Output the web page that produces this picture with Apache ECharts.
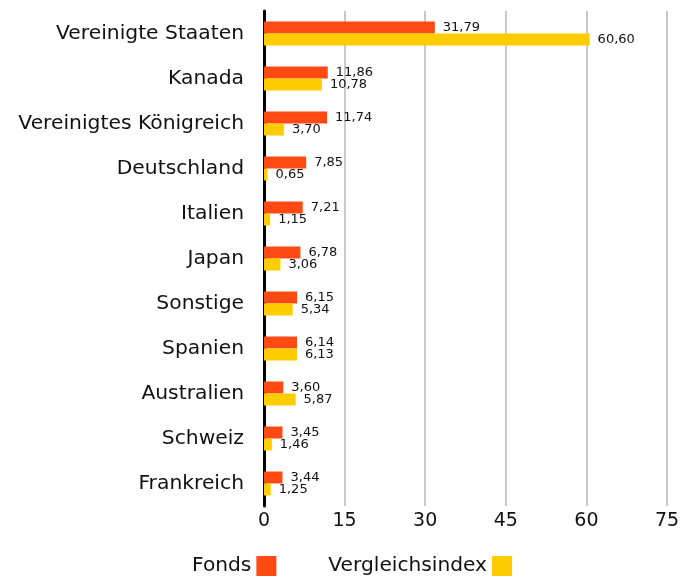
<!DOCTYPE html>
<html><head><meta charset="utf-8">
<script src="https://cdn.jsdelivr.net/npm/echarts@6/dist/echarts.min.js"></script>
<style>html,body{margin:0;padding:0;background:#fff}#c{width:692px;height:583px}</style>
</head><body><div id="c"></div>
<script>
const categories = ["Vereinigte Staaten","Kanada","Vereinigtes Königreich","Deutschland","Italien","Japan","Sonstige","Spanien","Australien","Schweiz","Frankreich"];
const fonds = [31.79,11.86,11.74,7.85,7.21,6.78,6.15,6.14,3.60,3.45,3.44];
const index = [60.60,10.78,3.70,0.65,1.15,3.06,5.34,6.13,5.87,1.46,1.25];
const xTicks = [0,15,30,45,60,75];

const FONT = 'DejaVu Sans';
const fmt = p => p.value.toFixed(2).replace('.', ',');
const chart = echarts.init(document.getElementById('c'));
chart.setOption({
  animation: false,
  textStyle: {fontFamily: FONT},
  grid: {left: 264, right: 25, top: 11, bottom: 77},
  legend: {
    bottom: 2, left: 187, itemWidth: 20, itemHeight: 20, itemGap: 52, align: 'right',
    icon: 'rect',
    textStyle: {fontSize: 20.2, color: '#111', fontFamily: FONT},
    data: ['Fonds','Vergleichsindex']
  },
  xAxis: {
    type: 'value', min: xTicks[0], max: xTicks[xTicks.length-1], interval: 15,
    axisLine: {show: false}, axisTick: {show: false},
    axisLabel: {fontSize: 19, color: '#111', margin: 6, fontFamily: FONT},
    splitLine: {lineStyle: {color: '#c8c8c8', width: 2}}
  },
  yAxis: {
    type: 'category', data: categories, inverse: true,
    axisLine: {show: true, lineStyle: {color: '#000', width: 3}},
    axisTick: {show: false},
    axisLabel: {fontSize: 20.3, color: '#111', margin: 20, fontFamily: FONT}
  },
  series: [
    {name: 'Fonds', type: 'bar', data: fonds, barWidth: 12, barGap: '0%', itemStyle: {color: '#FF4A14'},
     label: {show: true, position: 'right', distance: 8, fontSize: 13, color: '#111', formatter: fmt, fontFamily: FONT}},
    {name: 'Vergleichsindex', type: 'bar', data: index, barWidth: 12, itemStyle: {color: '#FFCC00'},
     label: {show: true, position: 'right', distance: 8, fontSize: 13, color: '#111', formatter: fmt, fontFamily: FONT}}
  ]
});
</script></body></html>
